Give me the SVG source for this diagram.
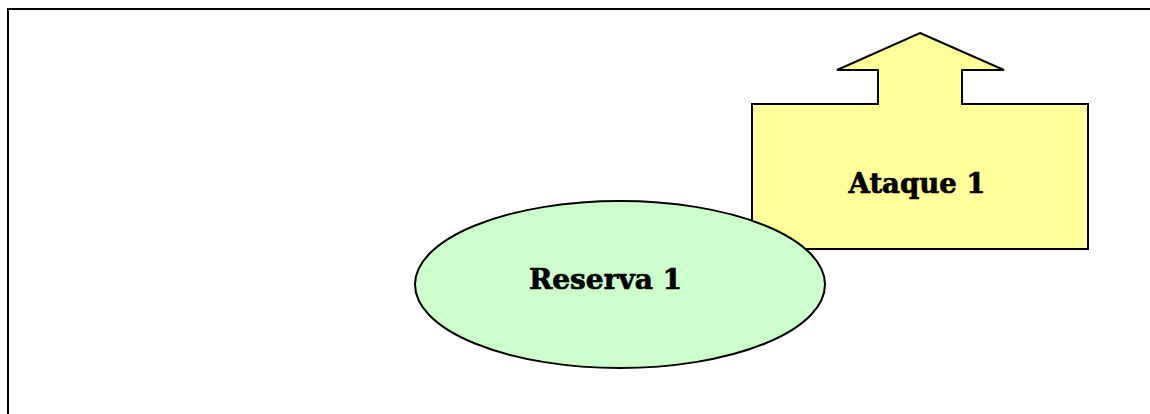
<svg xmlns="http://www.w3.org/2000/svg" width="1150" height="414" viewBox="0 0 1150 414">
<style>
.frame{fill:none;stroke:#000;stroke-width:2}
.shape{stroke:#000;stroke-width:2;stroke-linejoin:miter}
.lbl{font-family:"DejaVu Serif","Liberation Serif",serif;font-weight:bold;font-size:28px;fill:#000;stroke:#000;stroke-width:0.7}
</style>
<rect class="frame" x="8" y="9" width="1160" height="420"/>
<g id="ataque1">
<path class="shape" fill="#FFFF99" d="M920,33 L1004,70 L962,70 L962,104 L1088,104 L1088,249 L752,249 L752,104 L878,104 L878,70 L837,70 Z"/>
<text class="lbl" x="917" y="193" text-anchor="middle" textLength="137" lengthAdjust="spacingAndGlyphs">Ataque 1</text>
</g>
<g id="reserva1">
<ellipse class="shape" fill="#CCFFCC" cx="620" cy="284.5" rx="205" ry="83.5"/>
<text class="lbl" x="605.5" y="289" text-anchor="middle" textLength="153" lengthAdjust="spacingAndGlyphs">Reserva 1</text>
</g>
<g id="connectors"/>
</svg>
